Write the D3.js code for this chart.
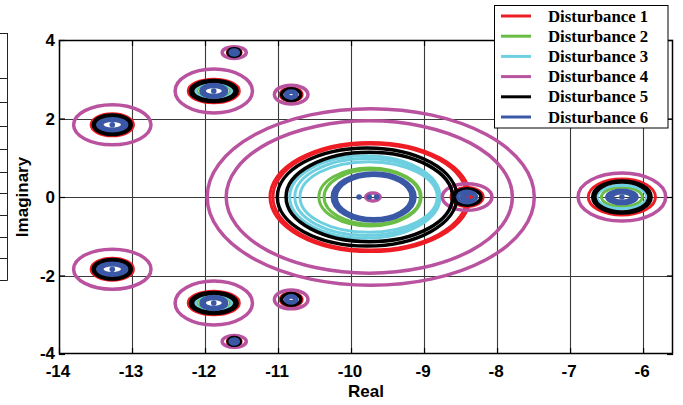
<!DOCTYPE html>
<html>
<head>
<meta charset="utf-8">
<script src="https://cdn.jsdelivr.net/npm/d3@7"></script>
<style>
html,body{margin:0;padding:0;background:#fff;}
svg{display:block;}
</style>
</head>
<body>
<svg id="chart" width="683" height="405"></svg>
<script>
// ---------------- data ----------------
const xTicks = [-14, -13, -12, -11, -10, -9, -8, -7, -6];
const yTicks = [-4, -2, 0, 2, 4];
const seriesNames = ["Disturbance 1", "Disturbance 2", "Disturbance 3", "Disturbance 4", "Disturbance 5", "Disturbance 6"];
const seriesColors = ["#ee1c24", "#6abd45", "#6dcfe0", "#b9529f", "#000000", "#3b58a6"];
const seriesWidths = [3, 3, 3, 3.5, 3.5, 3];
// contours: [centre real, centre imag, radius real, radius imag]; imag != 0 drawn with its conjugate
const dist1 = [
  [-13.27, 1.84, 0.29, 0.28],
  [-11.88, 2.70, 0.35, 0.30],
  [-11.60, 3.68, 0.095, 0.11],
  [-10.82, 2.61, 0.15, 0.17],
  [-9.74, 0, 1.37, 1.39],
  [-9.74, 0, 1.33, 1.35],
  [-8.41, 0, 0.22, 0.24],
  [-6.29, 0, 0.46, 0.46]
];
const dist2 = [
  [-13.27, 1.84, 0.22, 0.18],
  [-11.88, 2.70, 0.23, 0.19],
  [-9.74, 0, 0.70, 0.74],
  [-9.71, 0, 0.66, 0.70],
  [-6.29, 0, 0.28, 0.25]
];
const dist3 = [
  [-13.27, 1.84, 0.23, 0.20],
  [-11.88, 2.70, 0.25, 0.21],
  [-9.81, 0, 1.03, 1.05],
  [-9.79, 0, 0.98, 0.98],
  [-9.76, 0, 0.94, 0.90],
  [-6.29, 0, 0.34, 0.30]
];
const dist4 = [
  [-13.27, 1.84, 0.53, 0.51],
  [-11.88, 2.70, 0.53, 0.56],
  [-11.60, 3.68, 0.165, 0.15],
  [-10.82, 2.61, 0.23, 0.24],
  [-9.73, 0, 2.24, 2.25],
  [-9.75, 0, 1.96, 1.94],
  [-9.70, 0, 0.10, 0.10],
  [-8.41, 0, 0.34, 0.34],
  [-6.29, 0, 0.60, 0.61]
];
const dist5 = [
  [-13.27, 1.84, 0.26, 0.25],
  [-13.27, 1.84, 0.24, 0.22],
  [-11.88, 2.70, 0.32, 0.27],
  [-11.88, 2.70, 0.29, 0.24],
  [-11.60, 3.68, 0.085, 0.10],
  [-10.82, 2.61, 0.13, 0.15],
  [-9.78, 0, 1.23, 1.25],
  [-9.75, 0, 1.14, 1.14],
  [-8.41, 0, 0.19, 0.21],
  [-6.29, 0, 0.40, 0.41],
  [-6.29, 0, 0.37, 0.38]
];
const dist6 = [
  [-13.27, 1.84, 0.20, 0.16],
  [-13.27, 1.84, 0.17, 0.13],
  [-13.27, 1.84, 0.14, 0.11],
  [-11.88, 2.70, 0.18, 0.17],
  [-11.88, 2.70, 0.15, 0.14],
  [-11.88, 2.70, 0.13, 0.11],
  [-11.60, 3.68, 0.06, 0.07],
  [-11.60, 3.68, 0.03, 0.035],
  [-10.82, 2.61, 0.08, 0.10],
  [-10.82, 2.61, 0.045, 0.055],
  [-9.69, 0, 0.57, 0.62],
  [-9.69, 0, 0.54, 0.58],
  [-9.69, 0, 0.51, 0.55],
  [-8.41, 0, 0.13, 0.15],
  [-8.41, 0, 0.09, 0.10],
  [-8.41, 0, 0.05, 0.05],
  [-6.29, 0, 0.21, 0.18],
  [-6.29, 0, 0.18, 0.15],
  [-6.29, 0, 0.15, 0.12],
  [-6.29, 0, 0.125, 0.10]
];
const allSeries = [dist1, dist2, dist3, dist4, dist5, dist6];
// eigenvalue markers
const blueDots = [[-13.27, 1.84], [-11.88, 2.70], [-9.89, 0], [-9.75, 0], [-9.65, 0], [-6.29, 0]];
const redTriangles = [[-8.36, 0]];

// ---------------- layout ----------------
const svg = d3.select("#chart");
const L = 59, R = 673, T = 40, B = 354;
const x = d3.scaleLinear().domain([-14, -5.59]).range([L, R]);
const y = d3.scaleLinear().domain([-4, 4]).range([B, T]);

// cropped neighbouring box at the far left edge
const sideRows = [33, 78, 102, 126, 149, 172, 193, 215, 237, 258, 280];
const side = svg.append("g").attr("stroke", "#222").attr("stroke-width", 1);
side.selectAll("line.h").data(sideRows).join("line")
  .attr("x1", 0).attr("x2", 7.5).attr("y1", d => d + 0.5).attr("y2", d => d + 0.5);
side.append("line").attr("x1", 7.5).attr("x2", 7.5).attr("y1", 33).attr("y2", 280.5);

// grid
const grid = svg.append("g").attr("stroke", "#3a3a3a").attr("stroke-width", 1.1);
grid.selectAll("line.gx").data(xTicks.slice(1)).join("line")
  .attr("x1", d => Math.round(x(d)) + 0.5).attr("x2", d => Math.round(x(d)) + 0.5)
  .attr("y1", T).attr("y2", B);
grid.selectAll("line.gy").data(yTicks.slice(1, -1)).join("line")
  .attr("y1", d => Math.round(y(d)) + 0.5).attr("y2", d => Math.round(y(d)) + 0.5)
  .attr("x1", L).attr("x2", R);

// contours
svg.append("clipPath").attr("id", "clip").append("rect")
  .attr("x", L).attr("y", T).attr("width", R - L).attr("height", B - T);
const plot = svg.append("g").attr("clip-path", "url(#clip)");
const kx = x(1) - x(0), ky = y(0) - y(1);
allSeries.forEach((s, i) => {
  const items = [];
  s.forEach(c => {
    items.push(c);
    if (c[1] !== 0) items.push([c[0], -c[1], c[2], c[3]]);
  });
  plot.append("g").selectAll("ellipse").data(items).join("ellipse")
    .attr("cx", d => x(d[0])).attr("cy", d => y(d[1]))
    .attr("rx", d => d[2] * kx).attr("ry", d => d[3] * ky)
    .attr("fill", "none").attr("stroke", seriesColors[i]).attr("stroke-width", seriesWidths[i]);
});
const dots = [];
blueDots.forEach(p => { dots.push(p); if (p[1] !== 0) dots.push([p[0], -p[1]]); });
plot.append("g").selectAll("circle").data(dots).join("circle")
  .attr("cx", d => x(d[0])).attr("cy", d => y(d[1])).attr("r", 2.8)
  .attr("fill", seriesColors[5]);
plot.append("g").selectAll("path").data(redTriangles).join("path")
  .attr("d", d3.symbol(d3.symbolTriangle, 14))
  .attr("transform", d => `translate(${x(d[0])},${y(d[1])}) rotate(90)`)
  .attr("fill", seriesColors[0]);

// frame + inward ticks
const frame = svg.append("g").attr("stroke", "#000").attr("fill", "none");
frame.append("rect").attr("x", L + 0.5).attr("y", T + 0.5).attr("width", R - L - 1).attr("height", B - T - 1)
  .attr("stroke-width", 1.5);
const xAxisB = d3.axisBottom(x).tickValues(xTicks).tickSize(-6).tickFormat("");
const xAxisT = d3.axisTop(x).tickValues(xTicks).tickSize(-6).tickFormat("");
const yAxisL = d3.axisLeft(y).tickValues(yTicks).tickSize(-6).tickFormat("");
const yAxisR = d3.axisRight(y).tickValues(yTicks).tickSize(-6).tickFormat("");
[[xAxisB, `translate(0,${B})`], [xAxisT, `translate(0,${T})`], [yAxisL, `translate(${L},0)`], [yAxisR, `translate(${R},0)`]]
  .forEach(([ax, tr]) => {
    const g = svg.append("g").attr("transform", tr).call(ax);
    g.select(".domain").remove();
    g.selectAll("line").attr("stroke", "#000").attr("stroke-width", 1.2);
  });

// tick labels
const lab = svg.append("g").attr("font-family", "'Liberation Sans', Arial, sans-serif")
  .attr("font-weight", "bold").attr("font-size", 17).attr("fill", "#000");
lab.selectAll("text.xl").data(xTicks).join("text")
  .attr("x", d => x(d) - 1).attr("y", 377).attr("text-anchor", "middle")
  .text(d => String(d));
lab.selectAll("text.yl").data(yTicks).join("text")
  .attr("x", 55).attr("y", d => d === -4 ? 359 : y(d) + 6).attr("text-anchor", "end")
  .text(d => String(d));
lab.append("text").attr("x", 366).attr("y", 397).attr("text-anchor", "middle").text("Real");
lab.append("text").attr("transform", "translate(28,197) rotate(-90)").attr("text-anchor", "middle").text("Imaginary");

// legend
const lg = svg.append("g");
lg.append("rect").attr("x", 494.5).attr("y", 5.5).attr("width", 173.5).attr("height", 122.5)
  .attr("fill", "#fff").attr("stroke", "#000").attr("stroke-width", 1);
const rows = lg.selectAll("g.row").data(seriesNames).join("g")
  .attr("transform", (d, i) => `translate(0,${16 + i * 20.2})`);
rows.append("line").attr("x1", 501).attr("x2", 531).attr("y1", 0).attr("y2", 0)
  .attr("stroke", (d, i) => seriesColors[i]).attr("stroke-width", 3);
rows.append("text").attr("x", 548).attr("y", 5.5)
  .attr("font-family", "'Liberation Serif', 'Times New Roman', serif").attr("font-weight", "bold")
  .attr("font-size", 16.8).attr("fill", "#000").text(d => d);
</script>
</body>
</html>
